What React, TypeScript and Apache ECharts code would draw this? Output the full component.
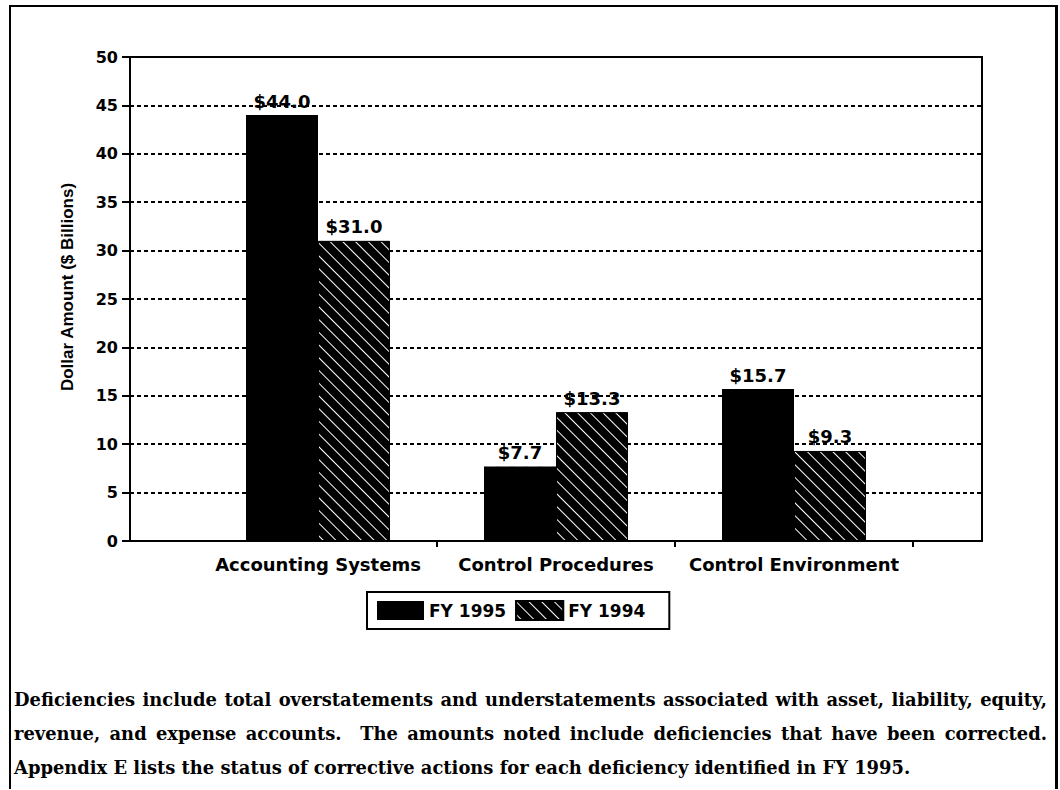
import React, { useEffect, useRef } from "react";
import * as echarts from "echarts";

const categories = ["Accounting Systems", "Control Procedures", "Control Environment"];
const seriesNames = ["FY 1995", "FY 1994"];
const fy1995 = [44.0, 7.7, 15.7];
const fy1994 = [31.0, 13.3, 9.3];
const yMin = 0;
const yMax = 50;
const yInterval = 5;
const yAxisTitle = "Dollar Amount ($ Billions)";
const captionLines = [
  "Deficiencies include total overstatements and understatements associated with asset, liability, equity,",
  "revenue, and expense accounts.\u00a0 The amounts noted include deficiencies that have been corrected.",
  "Appendix E lists the status of corrective actions for each deficiency identified in FY 1995.",
];

const SANS = "'DejaVu Sans', sans-serif";

export default function App() {
  const ref = useRef<HTMLDivElement>(null);

  useEffect(() => {
    if (!ref.current) return;
    const chart = echarts.init(ref.current, undefined, { renderer: "svg" });
    const labelStyle = {
      show: true,
      position: "top" as const,
      distance: 5,
      color: "#000",
      fontFamily: SANS,
      fontWeight: "bold" as const,
      fontSize: 18,
      formatter: (p: any) => "$" + Number(p.value).toFixed(1),
    };
    chart.setOption({
      animation: false,
      aria: { enabled: true, decal: { show: true } },
      backgroundColor: "transparent",
      grid: [
        {
          left: 130,
          top: 57,
          width: 852,
          height: 484,
          show: true,
          borderColor: "#000",
          borderWidth: 2,
          backgroundColor: "transparent",
        },
        { left: 199, top: 57, width: 714, height: 484 },
      ],
      legend: {
        left: 367,
        top: 592,
        orient: "horizontal",
        borderColor: "#000",
        borderWidth: 2,
        padding: [8, 24, 8, 10],
        itemGap: 9,
        itemWidth: 47,
        itemHeight: 19,
        icon: "rect",
        data: seriesNames,
        textStyle: { color: "#000", fontFamily: SANS, fontWeight: "bold", fontSize: 17 },
      },
      xAxis: [
        {
          gridIndex: 0,
          type: "value",
          min: 0,
          max: 1,
          axisLine: { show: true, onZero: false, lineStyle: { color: "#000", width: 2 } },
          axisTick: { show: false },
          axisLabel: { show: false },
          splitLine: { show: false },
        },
        {
          gridIndex: 1,
          type: "category",
          data: categories,
          axisLine: { show: false },
          axisTick: {
            show: true,
            length: 6,
            interval: (i: number) => i > 0,
            lineStyle: { color: "#000", width: 2 },
          },
          axisLabel: {
            interval: 0,
            color: "#000",
            fontFamily: SANS,
            fontWeight: "bold",
            fontSize: 18,
            margin: 14,
          },
          splitLine: { show: false },
        },
      ],
      yAxis: [
        {
          gridIndex: 0,
          type: "value",
          min: yMin,
          max: yMax,
          interval: yInterval,
          name: yAxisTitle,
          nameLocation: "middle",
          nameGap: 54,
          nameRotate: 90,
          nameTextStyle: {
            color: "#000",
            fontFamily: "'Liberation Sans', Arial, sans-serif",
            fontWeight: "bold",
            fontSize: 17,
            padding: [0, 0, 0, 24],
          },
          axisLine: { show: true, lineStyle: { color: "#000", width: 2 } },
          axisTick: { show: true, length: 8, lineStyle: { color: "#000", width: 2 } },
          axisLabel: {
            color: "#000",
            fontFamily: SANS,
            fontWeight: "bold",
            fontSize: 16,
            margin: 12,
          },
          splitLine: { show: true, lineStyle: { color: "#000", width: 2, type: [4, 3] } },
        },
        { gridIndex: 1, type: "value", min: yMin, max: yMax, show: false },
      ],
      series: [
        {
          name: seriesNames[0],
          type: "bar",
          xAxisIndex: 1,
          yAxisIndex: 1,
          data: fy1995,
          barWidth: 72,
          barGap: "0%",
          itemStyle: { color: "#000", decal: "none" },
          label: labelStyle,
        },
        {
          name: seriesNames[1],
          type: "bar",
          xAxisIndex: 1,
          yAxisIndex: 1,
          data: fy1994,
          barWidth: 72,
          barGap: "0%",
          itemStyle: {
            color: "#000",
            borderColor: "#000",
            borderWidth: 1,
            decal: {
              symbol: "rect",
              symbolSize: 1,
              color: "#fff",
              backgroundColor: "#000",
              dashArrayX: [1, 0],
              dashArrayY: [0.8, 7.5],
              rotation: Math.PI / 4,
            },
          },
          label: labelStyle,
        },
      ],
    });
    return () => chart.dispose();
  }, []);

  return (
    <div>
      <div
        style={{
          position: "absolute",
          left: 9,
          top: 5,
          width: 1049,
          height: 784,
          boxSizing: "border-box",
          borderTop: "2px solid #000",
          borderLeft: "2px solid #000",
          borderRight: "3px solid #000",
        }}
      />
      <div
        ref={ref}
        style={{ position: "absolute", left: 0, top: 0, width: 1060, height: 650 }}
      />
      <div
        style={{
          position: "absolute",
          left: 14,
          top: 683,
          width: 1033,
          fontFamily: "'DejaVu Serif', 'Liberation Serif', serif",
          fontWeight: "bold",
          fontSize: 17.9,
          lineHeight: "34px",
          color: "#000",
        }}
      >
        {captionLines.map((line, i) => (
          <div
            key={i}
            style={{
              textAlign: "justify",
              textAlignLast: i < captionLines.length - 1 ? "justify" : "left",
              whiteSpace: "nowrap",
            }}
          >
            {line}
          </div>
        ))}
      </div>
    </div>
  );
}
